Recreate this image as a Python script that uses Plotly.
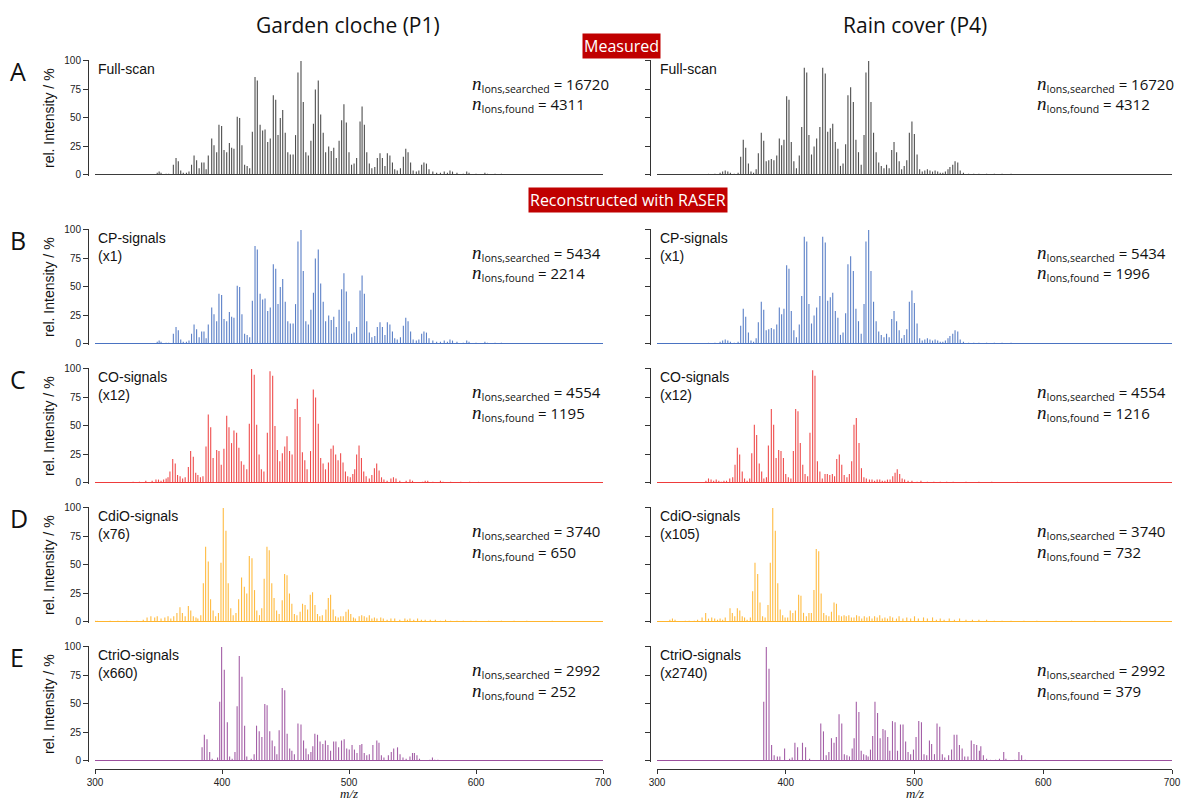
import plotly.graph_objects as go

W, H = 1182, 801

# ---------------- data (m/z, relative intensity %) ----------------
full_p1_mz = [349, 350.5, 352, 356, 358, 361.7, 363.8, 365.6, 367.5, 369.5, 372, 374, 376, 378, 380, 382, 384, 385.8,
              387.5, 389.2, 391.9, 393.7, 395.8, 397.6, 399.7, 401.6, 403.7, 405.8, 407.6, 409.4, 412, 413.9, 415.7,
              417.8, 419.8, 421.8, 423.9, 426, 427.8, 430, 432, 433.9, 436, 438, 440.4, 442.3, 444.1, 445.9, 447.8,
              449.8, 451.8, 453.8, 456, 457.9, 459.8, 462.2, 464, 466, 468, 470, 472, 473.5, 475.8, 477.7, 479.7,
              481.6, 484, 486, 488, 490, 492.2, 494.2, 496, 497.9, 500, 502, 504, 506, 508.7, 510.3, 512.1, 514, 516,
              518, 520.3, 522.3, 524.4, 526.3, 528.3, 530.2, 532.2, 534.2, 536, 538, 540.5, 542.8, 544.7, 546.5,
              548.5, 550.5, 553, 555, 557.2, 559, 561, 563, 566, 569, 572, 575, 577.5, 579.5, 581.5, 585, 590, 592.7,
              594.5, 600, 607, 609, 615, 620]
full_p1_int = [2, 3, 2, 1, 1, 9, 15, 12, 4, 2, 2, 3, 9, 17, 13, 6, 11, 11,
               5, 17, 32, 26, 20, 44, 43, 22, 20, 28, 24, 23, 51, 50, 26,
               9, 8, 6, 38, 86, 83, 44, 39, 40, 29, 32, 70, 66, 35, 50, 57,
               37, 20, 18, 18, 35, 90, 100, 64, 20, 17, 30, 45, 75, 83, 53, 37,
               20, 25, 21, 24, 15, 30, 48, 62, 46, 20, 9, 10, 15, 47, 60, 44, 20, 10,
               6, 7, 15, 19, 15, 8, 19, 17, 11, 5, 4, 6, 16, 23, 20,
               11, 4, 3, 4, 9, 11, 10, 5, 3, 2, 2, 3, 2, 4, 3, 2, 1, 3,
               2, 1, 2, 1, 1, 1]

full_p4_mz = [340, 345, 349, 351, 353, 355, 357, 360, 363, 365, 367, 368.9, 371, 373, 375, 377, 378.7, 381, 382.9,
              384.8, 386.8, 388.8, 390.8, 393, 395, 396.8, 398.6, 400.7, 402.5, 404.3, 406.3, 408.3, 410.5, 412.4,
              414.4, 416.3, 418, 420, 422, 424, 426.5, 428.7, 430.7, 432.6, 434.6, 436.5, 438.5, 440.5, 442.5, 444.5,
              446.5, 448.3, 450.4, 452.5, 454.5, 456.5, 458.6, 460.8, 462.3, 464.4, 466.2, 468.2, 470.2, 472.2,
              474.2, 476.3, 478.3, 480.3, 482.3, 484.1, 486.1, 488.1, 490, 492, 494, 496, 498, 499.9, 502, 504, 506,
              508, 510, 512, 514, 516, 518, 520, 522, 524, 526, 527.5, 529.7, 531.5, 533.6, 535.5, 538, 542, 546,
              550, 556, 562, 568, 575]
full_p4_int = [1, 1, 2, 3, 4, 3, 2, 1, 2, 16, 31, 24, 10, 3, 2, 5, 19, 37, 30,
               12, 13, 14, 13, 17, 32, 26, 31, 69, 66, 29, 12, 6, 17, 42,
               94, 90, 35, 18, 25, 32, 42, 94, 89, 38, 41, 45, 29, 23, 8, 10,
               27, 70, 77, 64, 31, 20, 9, 35, 90, 100, 64, 37, 20, 11,
               8, 6, 9, 6, 22, 29, 20, 12, 5, 8, 13, 37, 47, 36, 18, 5, 3,
               4, 5, 4, 3, 4, 3, 2, 2, 3, 5, 7, 9, 12, 11, 4, 2, 1, 1,
               1, 1, 1, 1, 1]

# CP-signals: reconstructed spectra are practically identical to the full scans
cp_p1_mz, cp_p1_int = list(full_p1_mz), list(full_p1_int)
cp_p4_mz, cp_p4_int = list(full_p4_mz), list(full_p4_int)

co_p1_mz = [330, 335, 340, 345, 348, 350, 352, 354, 356, 357.5, 359, 361.2, 363.2, 365, 367, 369, 371, 373.5, 375.3,
            377.4, 379.3, 381, 383, 385, 387.4, 389.2, 391.1, 393, 395.8, 397.6, 399.4, 401.5, 403.7, 405.5, 407.5,
            409.4, 411.5, 413.3, 415.2, 417.2, 419.5, 421.5, 423.3, 425.4, 427.3, 429.2, 431, 433, 435.7, 437.8,
            439.9, 441.7, 443.6, 445.5, 447.5, 449.4, 451.2, 453.2, 455.2, 457.5, 459.3, 461.4, 463.3, 465.2, 467,
            469.7, 471.9, 473.7, 475.8, 477.7, 479.6, 481.5, 483.8, 485.8, 487.6, 489.5, 491.4, 493.4, 495.3, 497.2,
            499, 501, 503, 504.5, 506, 507.9, 509.8, 511.6, 513.5, 516, 518, 520, 521.8, 523.7, 525.6, 527.5, 530,
            533, 535, 537, 540, 545, 548, 550, 558, 560, 562, 566, 572, 574, 580, 588, 595, 602]
co_p1_int = [1, 1, 2, 2, 3, 3, 2, 3, 4, 5, 10, 21, 17, 7, 6, 4, 5, 14, 28,
             23, 9, 7, 5, 6, 32, 60, 49, 22, 29, 28, 16, 30, 59, 49, 35,
             46, 44, 31, 19, 16, 12, 52, 100, 95, 51, 25, 12, 10, 44, 98,
             94, 50, 29, 19, 26, 32, 41, 28, 25, 65, 74, 58, 27, 20, 12,
             28, 82, 75, 52, 22, 17, 12, 18, 30, 33, 25, 20, 26, 18, 10,
             6, 5, 8, 12, 25, 33, 22, 10, 6, 4, 7, 13, 17, 11, 5, 3, 2,
             4, 5, 4, 2, 2, 3, 2, 1, 2, 2, 1, 2, 1, 1, 1, 1, 1]

co_p4_mz = [338, 340, 342, 344, 346, 348, 350, 352, 354, 356.5, 358.8, 360.6, 362.4, 364.2, 366.2, 368, 370, 372,
            373.6, 375.6, 377.4, 379.4, 381.3, 383, 385, 386.5, 388.8, 390.6, 392.5, 394.5, 396.3, 398.2, 400, 402,
            404, 405.9, 407.7, 409.5, 411.3, 413.2, 415, 417, 418.8, 420.9, 422.7, 424.6, 426.5, 428.4, 430.5,
            432.3, 434.2, 436.2, 437.9, 439.6, 441.6, 443.5, 445.4, 447.5, 449.4, 451.2, 453, 454.8, 456.9, 458.8,
            460.7, 462.6, 465, 467, 469, 471, 473, 475, 477, 479, 481, 483.1, 484.9, 486.6, 488.5, 490.4, 492.3,
            495, 498, 502, 505, 510, 515, 520, 525, 530, 540, 550, 560, 580]
co_p4_int = [2, 4, 3, 2, 3, 2, 1, 2, 2, 4, 5, 16, 31, 25, 10, 4, 2, 4,
             26, 51, 42, 17, 10, 4, 5, 33, 65, 51, 22, 29, 28, 22, 8, 5,
             4, 28, 65, 63, 35, 16, 8, 6, 44, 99, 94, 19, 10, 4, 8,
             8, 7, 8, 6, 21, 25, 16, 7, 5, 8, 19, 51, 57, 35, 13,
             5, 4, 3, 3, 2, 3, 3, 2, 2, 3, 3, 6, 9, 12, 8, 4, 3,
             2, 2, 1, 2, 1, 1, 1, 1, 1, 1, 1, 1, 1]

cdio_p1_mz = [300.5, 302, 312, 318, 325, 333, 338, 341, 344, 347, 349, 352, 355, 357.5, 359.7, 362, 364.5, 366.9,
              368.8, 371, 373.5, 375.4, 377.4, 379.5, 381, 383.3, 385.3, 387.1, 389.2, 391, 393, 395, 397.2, 399.2,
              401, 403.1, 404.9, 406.9, 408.8, 411, 413.1, 415.4, 417.6, 419.5, 421.5, 423.6, 425.6, 427.4, 429.5,
              431.3, 433.2, 435.4, 437.2, 439.2, 441, 443, 445, 447.4, 449.3, 451.2, 453.1, 455, 457, 459, 461.5,
              463.4, 465.4, 467.4, 469.5, 471.3, 473.2, 475.2, 477, 479, 481.8, 483.7, 485.5, 487.5, 489.4, 491.5,
              493.5, 495.5, 497.6, 499.5, 501.4, 503.5, 505, 508, 510, 512, 514, 516, 518, 520, 522, 525, 527, 530,
              533, 536, 540, 544, 546, 548, 551, 554, 557, 560, 564, 568, 572, 576, 580, 585, 590, 596, 600, 610,
              620, 630, 640, 660]
cdio_p1_int = [1, 1, 1, 1, 1, 1, 2, 4, 5, 4, 5, 3, 4, 5, 3, 5, 8, 13,
               8, 5, 14, 10, 5, 4, 3, 6, 34, 66, 53, 20, 10, 5, 8, 52,
               100, 80, 34, 12, 6, 8, 20, 39, 31, 25, 58, 56, 28, 10, 6,
               12, 38, 66, 63, 34, 21, 10, 7, 19, 42, 41, 25, 16, 7, 6, 9,
               16, 15, 11, 24, 26, 15, 7, 5, 6, 11, 21, 24, 11, 5, 4,
               5, 5, 9, 11, 7, 4, 3, 5, 6, 5, 4, 6, 3, 4, 3, 4, 3, 2,
               3, 3, 2, 3, 2, 3, 2, 3, 2, 2, 2, 2, 1, 2, 1, 1, 1, 1, 1, 1,
               1, 1, 1, 1]

cdio_p4_mz = [310, 312, 314, 322, 325, 329, 331.5, 335, 337.8, 340, 342.5, 344.8, 347, 349, 351, 353, 356.7, 358.5,
              360.4, 362.4, 364.3, 366.2, 368, 370, 372.5, 374.3, 376.1, 378.2, 380, 382, 384, 386.2, 388, 389.9,
              391.9, 393.8, 395.7, 397.6, 399.5, 401.5, 403.5, 405.5, 407.5, 410, 411.8, 413.8, 416, 418, 419.9,
              421.9, 423.7, 425.6, 427.5, 429.5, 431.4, 433.5, 435.5, 437.5, 439.4, 441.3, 443.3, 445.3, 447, 449,
              451, 453, 455, 457, 459, 461, 463, 465, 467, 469, 471, 473, 475, 477, 479, 481, 483, 486, 488, 491,
              494, 497, 500, 503, 507, 510, 514, 517, 520, 523, 527, 531, 535, 540, 545, 550, 556, 562, 568, 575,
              585, 595, 610, 622, 640, 660]
cdio_p4_int = [2, 3, 2, 1, 1, 1, 2, 4, 8, 3, 4, 3, 2, 3, 2, 4, 12, 8,
               5, 12, 10, 5, 4, 2, 4, 27, 52, 42, 17, 5, 4, 15, 52, 100,
               80, 34, 11, 6, 4, 4, 10, 8, 10, 24, 23, 8, 5, 8, 8,
               28, 64, 62, 25, 8, 6, 5, 9, 17, 16, 6, 5, 6, 5, 6,
               4, 4, 6, 5, 3, 5, 4, 5, 3, 5, 4, 6, 3, 4, 3, 5, 4, 3, 5, 3,
               4, 3, 5, 3, 4, 3, 4, 2, 3, 2, 3, 2, 3, 2, 2, 2, 2, 1, 1, 1,
               1, 1, 1, 1, 1, 1]

ctrio_p1_mz = [384.3, 386.1, 388.2, 390.3, 392.3, 396.5, 398.2, 399.7, 401.8, 404.2, 406, 408, 410.2, 411.9, 413.6,
               415.7, 417.8, 419.5, 423, 425.3, 427.2, 429.3, 431.4, 433.7, 435.5, 437.6, 439.5, 441.5, 443.2, 445,
               447.4, 449.4, 451.3, 453.3, 455, 457, 459.8, 462.2, 464.2, 466.1, 468, 470, 471.5, 473.1, 475.2,
               477.2, 479.4, 481.4, 483.4, 485.5, 487.9, 489.7, 491.8, 494.1, 496.2, 498.2, 500.2, 502.4, 504.3,
               506.3, 508.6, 510.1, 512, 514, 516, 518.8, 521.9, 523.6, 525.5, 527.5, 531, 533.3, 535.2, 538.2,
               540.2, 542.5, 545, 548, 550, 551.5, 553.5, 555.5, 563.7, 565.7, 567.5, 570]
ctrio_p1_int = [12, 23, 19, 8, 2, 3, 52, 100, 80, 34, 4, 2, 8, 48, 92,
                74, 31, 4, 2, 6, 31, 26, 21, 50, 49, 26, 18, 13, 6, 27,
                64, 62, 24, 11, 9, 6, 33, 32, 18, 11, 6, 8, 13, 24, 23,
                17, 15, 18, 14, 9, 17, 17, 12, 18, 19, 11, 10, 14, 10,
                7, 14, 15, 7, 5, 6, 14, 18, 16, 5, 3, 5, 8, 11, 12,
                6, 3, 2, 4, 7, 7, 5, 2, 1, 3, 1, 1]

ctrio_p4_mz = [382.9, 384.9, 387, 389, 391, 393.5, 395.4, 399.1, 403, 405, 407.1, 409.2, 413, 415.4, 418.5, 427.2,
               429.3, 431.4, 433.5, 435.5, 437.5, 439.3, 441.4, 443.5, 445.5, 447.5, 449.5, 451.6, 453.1, 454.8,
               456.8, 458.6, 460.5, 462.5, 464, 465.8, 467.5, 469.3, 471.3, 473.3, 475.5, 477.2, 479.2, 480.8,
               482.9, 484.9, 486.8, 489.1, 491.1, 493.1, 495, 497, 499.2, 501.2, 503.3, 505.4, 507.4, 509.5, 511.6,
               513.3, 515.5, 517.5, 519.6, 521.6, 523.5, 526.5, 528.8, 530.8, 532.9, 534.9, 537, 539, 541.5, 544.1,
               546.2, 548.3, 550.4, 551.5, 553.5, 556, 559, 563, 566, 569.3, 571, 578, 581.1, 583.2, 586]
ctrio_p4_int = [52, 100, 81, 14, 5, 4, 4, 11, 2, 3, 16, 12, 16, 12, 2, 33,
                26, 5, 8, 20, 16, 21, 41, 33, 6, 5, 4, 11, 20, 52,
                43, 9, 6, 5, 4, 10, 22, 52, 42, 20, 28, 27, 21, 9,
                35, 34, 9, 32, 32, 17, 8, 6, 10, 21, 35, 34, 6, 5, 18,
                15, 6, 33, 30, 6, 3, 5, 10, 23, 23, 14, 11, 4, 4, 18,
                15, 14, 9, 13, 5, 2, 1, 1, 2, 8, 2, 1, 8, 5, 1]

x_ticks = [300, 400, 500, 600, 700]
y_ticks = [0, 25, 50, 75, 100]

row_letters = ["A", "B", "C", "D", "E"]
row_labels_p1 = ["Full-scan", "CP-signals<br>(x1)", "CO-signals<br>(x12)", "CdiO-signals<br>(x76)",
                 "CtriO-signals<br>(x660)"]
row_labels_p4 = ["Full-scan", "CP-signals<br>(x1)", "CO-signals<br>(x12)", "CdiO-signals<br>(x105)",
                 "CtriO-signals<br>(x2740)"]
n_searched = [16720, 5434, 4554, 3740, 2992]
n_found_p1 = [4311, 2214, 1195, 650, 252]
n_found_p4 = [4312, 1996, 1216, 732, 379]
row_colors = ["#3b3b3b", "#4a73c2", "#ee3b3b", "#ffb52e", "#9b4f9e"]

spectra_p1 = [(full_p1_mz, full_p1_int), (cp_p1_mz, cp_p1_int), (co_p1_mz, co_p1_int),
              (cdio_p1_mz, cdio_p1_int), (ctrio_p1_mz, ctrio_p1_int)]
spectra_p4 = [(full_p4_mz, full_p4_int), (cp_p4_mz, cp_p4_int), (co_p4_mz, co_p4_int),
              (cdio_p4_mz, cdio_p4_int), (ctrio_p4_mz, ctrio_p4_int)]

# ---------------- layout geometry (pixels) ----------------
row_top = [61, 230, 369, 508, 647]      # pixel of 100 %
row_bot = [175, 344, 483, 622, 761]     # pixel of 0 %
col_x = [(95, 603), (657, 1172)]        # pixel of m/z 300 and 700
col_yaxis_x = [88, 650]
n_x = [470, 1035]

def px(x):
    return x / W

def py(y):
    return 1 - y / H

YR = [-0.8, 100.8]
pad = 114 / 100 * 0.8


def sticks(mz, it):
    """Convert peak lists into vertical stick segments (from 0 up to the intensity)."""
    xs, ys = [], []
    for m, v in zip(mz, it):
        xs += [m, m, None]
        ys += [0, v, None]
    return xs, ys


fig = go.Figure()
layout_axes = {}
annotations = []

SANS = "Liberation Sans, Arial, sans-serif"
MYR = "Open Sans, Noto Sans, sans-serif"


def ann(text, x, y, xanchor="center", yanchor="middle", **kw):
    d = dict(text=text, x=px(x), y=py(y), xref="paper", yref="paper", xanchor=xanchor, yanchor=yanchor,
             showarrow=False)
    d.update(kw)
    annotations.append(d)


k = 0
for r in range(5):
    for c in range(2):
        k += 1
        xa = "x" if k == 1 else f"x{k}"
        ya = "y" if k == 1 else f"y{k}"
        xname = "xaxis" if k == 1 else f"xaxis{k}"
        yname = "yaxis" if k == 1 else f"yaxis{k}"
        mz, it = (spectra_p1 if c == 0 else spectra_p4)[r]
        sx, sy = sticks(mz, it)
        fig.add_trace(go.Scatter(x=sx, y=sy, mode="lines", line=dict(color=row_colors[r], width=1.1),
                                 opacity=0.9, xaxis=xa, yaxis=ya, showlegend=False, hoverinfo="skip"))
        last = (r == 4)
        xd = [px(col_x[c][0]), px(col_x[c][1])]
        yd = [py(row_bot[r] + pad), py(row_top[r] - pad)]
        xax = dict(domain=xd, range=[300, 700], showgrid=False, zeroline=False, anchor=ya)
        if last:
            xax.update(anchor="free", position=py(769), showline=True, linecolor="#333", linewidth=1,
                       ticks="outside", ticklen=4, tickcolor="#333", tickvals=x_ticks,
                       tickfont=dict(family=SANS, size=10, color="#222"))
        else:
            xax.update(showline=False, showticklabels=False, ticks="")
        yax = dict(domain=yd, range=YR, anchor="free", position=px(col_yaxis_x[c]), showgrid=False,
                   zeroline=True, zerolinecolor=row_colors[r], zerolinewidth=1,
                   showline=True, linecolor="#333", linewidth=1, ticks="outside", ticklen=5, tickcolor="#333",
                   tickvals=y_ticks, showticklabels=(c == 0),
                   tickfont=dict(family=SANS, size=10, color="#222"))
        layout_axes[xname] = xax
        layout_axes[yname] = yax

        # row label
        lab = (row_labels_p1 if c == 0 else row_labels_p4)[r]
        ann(lab, col_x[c][0] + 1, row_top[r] - 2, xanchor="left", yanchor="top", align="left",
            font=dict(family=SANS, size=14, color="#111"))
        nf = (n_found_p1 if c == 0 else n_found_p4)[r]
        nspan = "<span style='font-family:Liberation Serif;font-size:19px'><i>n</i></span>"
        ann(f"{nspan}<sub>Ions,searched</sub> = {n_searched[r]}", n_x[c], row_top[r] + 23, xanchor="left",
            font=dict(family=MYR, size=15, color="#111"))
        ann(f"{nspan}<sub>Ions,found</sub> = {nf}", n_x[c], row_top[r] + 44, xanchor="left",
            font=dict(family=MYR, size=15, color="#111"))
    # panel letter and y title
    ann(row_letters[r], 8, row_top[r] + 10, xanchor="left", font=dict(family=MYR, size=25, color="#111"))
    ann("rel. Intensity / %", 49, (row_top[r] + row_bot[r]) / 2, textangle=-90,
        font=dict(family=SANS, size=14, color="#111"))

# headings
ann("Garden cloche (P1)", 348, 25, font=dict(family=MYR, size=21, color="#111"))
ann("Rain cover (P4)", 915, 25, font=dict(family=MYR, size=21, color="#111"))
ann("Measured", 622, 46, bgcolor="#c00000", borderpad=1, font=dict(family=MYR, size=16, color="white"))
ann("Reconstructed with RASER", 628, 200, bgcolor="#c00000", borderpad=1,
    font=dict(family=MYR, size=16, color="white"))
for cx in [349, 915]:
    ann("<i>m/z</i>", cx, 793, font=dict(family="Liberation Serif, serif", size=13, color="#111"))

fig.update_layout(width=W, height=H, margin=dict(l=0, r=0, t=0, b=0, autoexpand=False),
                  paper_bgcolor="white", plot_bgcolor="white", showlegend=False,
                  annotations=annotations, **layout_axes)

fig.write_html("out.html", config={"displayModeBar": False},
               post_script="document.body.style.margin='0';document.body.style.overflow='hidden';")
